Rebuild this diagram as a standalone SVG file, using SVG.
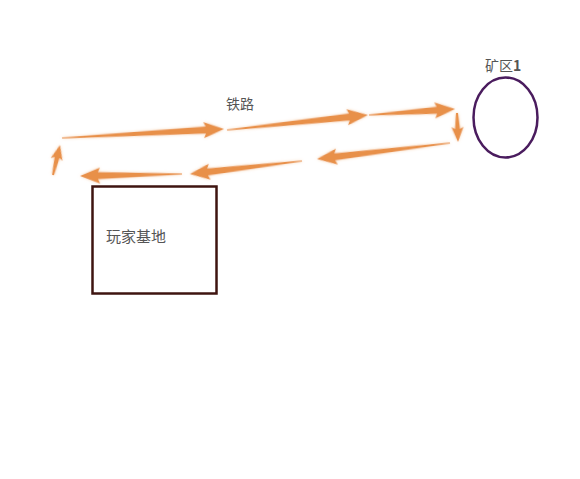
<svg xmlns="http://www.w3.org/2000/svg" width="580" height="479" viewBox="0 0 580 479">
<style>
.arr{fill:#E8904A;filter:url(#glow)}
.lbl{font-family:"Noto Sans CJK SC","Liberation Sans",sans-serif;fill:#555555}
</style>
<defs>
<filter id="glow" x="-10%" y="-50%" width="120%" height="200%">
<feGaussianBlur in="SourceAlpha" stdDeviation="1.6" result="b"/>
<feFlood flood-color="#F4C9A0" flood-opacity="0.8"/>
<feComposite in2="b" operator="in" result="g"/>
<feMerge><feMergeNode in="g"/><feMergeNode in="SourceGraphic"/></feMerge>
</filter>
</defs>
<rect width="580" height="479" fill="#fff"/>
<g id="connectors">
<path class="arr" transform="translate(62,138) rotate(-3.18)" d="M0,-0.6 L144,-3.4 L142,-8 L162.2,0 L142,8 L144,3.4 L0,0.6 Z"/>
<path class="arr" transform="translate(227,130) rotate(-6.07)" d="M0,-0.6 L123,-3.4 L121,-8 L141.8,0 L121,8 L123,3.4 L0,0.6 Z"/>
<path class="arr" transform="translate(369,115) rotate(-3.99)" d="M0,-0.6 L68,-3.4 L66,-8 L86.2,0 L66,8 L68,3.4 L0,0.6 Z"/>
<path class="arr" transform="translate(457,113) rotate(88)" d="M0,-1 L16,-2.6 L14,-6 L29,0 L14,6 L16,2.6 L0,1 Z"/>
<path class="arr" transform="translate(450,143) rotate(173.14)" d="M0,-0.6 L116,-3.4 L114,-8 L134,0 L114,8 L116,3.4 L0,0.6 Z"/>
<path class="arr" transform="translate(302,161) rotate(173.38)" d="M0,-0.6 L95,-3.4 L93,-8 L112.8,0 L93,8 L95,3.4 L0,0.6 Z"/>
<path class="arr" transform="translate(182,174) rotate(178.88)" d="M0,-0.6 L84,-3.4 L82,-8 L102,0 L82,8 L84,3.4 L0,0.6 Z"/>
<path class="arr" transform="translate(53,175) rotate(-76.87)" d="M0,-1 L18,-2.6 L16,-6 L30.8,0 L16,6 L18,2.6 L0,1 Z"/>
</g>
<g id="base">
<rect x="92.5" y="186.5" width="124" height="107" fill="none" stroke="#3E1410" stroke-width="2.5"/>
<text class="lbl" x="106" y="242" font-size="15">玩家基地</text>
</g>
<g id="mine1">
<ellipse cx="505.5" cy="117.5" rx="32" ry="40" fill="none" stroke="#4A1C5E" stroke-width="2.5"/>
<text class="lbl" x="485" y="71" font-size="14">矿区<tspan font-weight="bold">1</tspan></text>
</g>
<g id="rail-label">
<text class="lbl" x="226" y="109" font-size="14">铁路</text>
</g>
</svg>
